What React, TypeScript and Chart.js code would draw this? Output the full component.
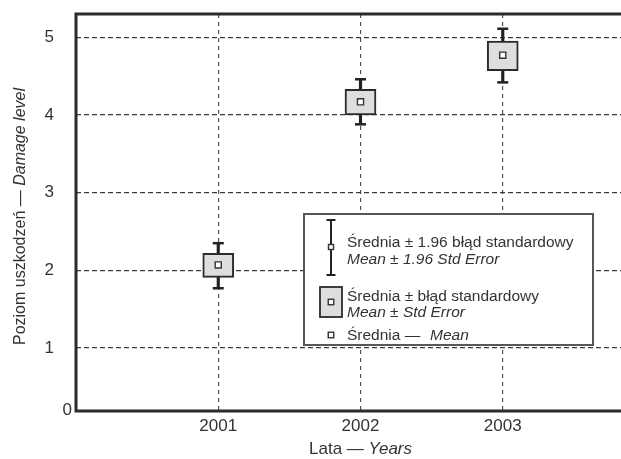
import React, { useEffect, useRef } from "react";
import { Chart, registerables } from "chart.js";

Chart.register(...registerables);

// ---- data ----
const years = [2001, 2002, 2003];
const means = [2.07, 4.17, 4.77];
const seLow = [1.91, 4.0, 4.57];
const seHigh = [2.22, 4.33, 4.95];
const ciLow = [1.77, 3.88, 4.42];
const ciHigh = [2.35, 4.46, 5.11];
const yTicks = [1, 2, 3, 4, 5];
const yMinLabel = "0";
const yMin = 0.19;
const yMax = 5.3;
const xMin = 2000;
const xMax = 2004;

const yTitleRegular = "Poziom uszkodzeń — ";
const yTitleItalic = "Damage level";
const xTitleRegular = "Lata — ";
const xTitleItalic = "Years";
const legendLines = [
  ["Średnia ± 1.96 błąd standardowy", "Mean ± 1.96 Std Error"],
  ["Średnia ± błąd standardowy", "Mean ± Std Error"],
];
const legendMeanRegular = "Średnia — ";
const legendMeanItalic = "Mean";

const FONT = "'Liberation Sans', Arial, Helvetica, sans-serif";
const DARK = "#2b2b2b";
const TEXT = "#333333";
const BOX_FILL = "#dedede";

const drawSquare = (ctx: CanvasRenderingContext2D, cx: number, cy: number, s: number) => {
  ctx.save();
  ctx.fillStyle = "#ffffff";
  ctx.strokeStyle = "#333";
  ctx.lineWidth = 1.4;
  ctx.fillRect(cx - s / 2, cy - s / 2, s, s);
  ctx.strokeRect(cx - s / 2, cy - s / 2, s, s);
  ctx.restore();
};

const decorPlugin = {
  id: "decor",
  beforeDatasetsDraw(chart: any) {
    const { ctx, chartArea: ca } = chart;
    ctx.save();
    ctx.strokeStyle = DARK;
    ctx.lineWidth = 3;
    ctx.beginPath();
    ctx.moveTo(ca.left, ca.top);
    ctx.lineTo(chart.width, ca.top);
    ctx.moveTo(ca.left, ca.top - 1.5);
    ctx.lineTo(ca.left, ca.bottom);
    ctx.lineTo(chart.width, ca.bottom);
    ctx.stroke();
    ctx.restore();
  },
  afterDraw(chart: any) {
    const { ctx, chartArea: ca } = chart;
    const yScale = chart.scales.y;
    ctx.save();
    ctx.fillStyle = TEXT;
    ctx.font = `17px ${FONT}`;
    ctx.textAlign = "right";
    ctx.textBaseline = "middle";
    ctx.fillText(yMinLabel, ca.left - 4, yScale.getPixelForValue(yMin) - 1);

    // y title
    ctx.save();
    ctx.translate(21, (ca.top + ca.bottom) / 2 + 4);
    ctx.rotate(-Math.PI / 2);
    ctx.textBaseline = "middle";
    ctx.textAlign = "left";
    ctx.font = `16px ${FONT}`;
    const w1 = ctx.measureText(yTitleRegular).width;
    ctx.font = `italic 16px ${FONT}`;
    const w2 = ctx.measureText(yTitleItalic).width;
    const sx = -(w1 + w2) / 2;
    ctx.font = `16px ${FONT}`;
    ctx.fillText(yTitleRegular, sx, 0);
    ctx.font = `italic 16px ${FONT}`;
    ctx.fillText(yTitleItalic, sx + w1, 0);
    ctx.restore();

    // x title
    ctx.textAlign = "left";
    ctx.textBaseline = "alphabetic";
    ctx.font = `17px ${FONT}`;
    const xw1 = ctx.measureText(xTitleRegular).width;
    ctx.font = `italic 17px ${FONT}`;
    const xw2 = ctx.measureText(xTitleItalic).width;
    const xc = (ca.left + ca.right) / 2;
    ctx.font = `17px ${FONT}`;
    ctx.fillText(xTitleRegular, xc - (xw1 + xw2) / 2, 454);
    ctx.font = `italic 17px ${FONT}`;
    ctx.fillText(xTitleItalic, xc - (xw1 + xw2) / 2 + xw1, 454);

    // legend
    const L = ca.left + 228;
    const T = ca.top + 200;
    ctx.fillStyle = "#ffffff";
    ctx.fillRect(L, T, 289, 131);
    ctx.strokeStyle = "#555";
    ctx.lineWidth = 2;
    ctx.strokeRect(L, T, 289, 131);

    const ix = L + 27;
    ctx.strokeStyle = "#222";
    ctx.lineWidth = 2;
    ctx.beginPath();
    ctx.moveTo(ix, T + 6);
    ctx.lineTo(ix, T + 61);
    ctx.moveTo(ix - 4.5, T + 6);
    ctx.lineTo(ix + 4.5, T + 6);
    ctx.moveTo(ix - 4.5, T + 61);
    ctx.lineTo(ix + 4.5, T + 61);
    ctx.stroke();
    drawSquare(ctx, ix, T + 33, 5);
    ctx.fillStyle = BOX_FILL;
    ctx.fillRect(ix - 11, T + 73, 22, 30);
    ctx.strokeStyle = DARK;
    ctx.lineWidth = 1.8;
    ctx.strokeRect(ix - 11, T + 73, 22, 30);
    drawSquare(ctx, ix, T + 88, 5.5);
    drawSquare(ctx, ix, T + 121, 5.5);

    const tx = L + 43;
    const fs = 15.5;
    ctx.fillStyle = TEXT;
    ctx.textAlign = "left";
    ctx.textBaseline = "alphabetic";
    const baselines = [[T + 33, T + 50], [T + 87, T + 103]];
    legendLines.forEach((pair, i) => {
      ctx.font = `${fs}px ${FONT}`;
      ctx.fillText(pair[0], tx, baselines[i][0]);
      ctx.font = `italic ${fs}px ${FONT}`;
      ctx.fillText(pair[1], tx, baselines[i][1]);
    });
    ctx.font = `${fs}px ${FONT}`;
    ctx.fillText(legendMeanRegular, tx, T + 126);
    ctx.font = `italic ${fs}px ${FONT}`;
    ctx.fillText(legendMeanItalic, tx + 83, T + 126);
    ctx.restore();
  },
};

export default function App() {
  const ref = useRef<HTMLCanvasElement | null>(null);
  useEffect(() => {
    if (!ref.current) return;
    const chart = new Chart(ref.current, {
      type: "bar",
      data: {
        datasets: [
          {
            type: "bar",
            label: "ci",
            data: years.map((x, i) => ({ x, y: [ciLow[i], ciHigh[i]] })) as any,
            backgroundColor: "#222",
            barThickness: 2.5,
            grouped: false,
            order: 4,
          } as any,
          {
            type: "scatter",
            label: "caps",
            data: years.flatMap((x, i) => [
              { x, y: ciLow[i] },
              { x, y: ciHigh[i] },
            ]),
            pointStyle: "line",
            radius: 5.5,
            borderWidth: 2.5,
            borderColor: "#222",
            order: 3,
          } as any,
          {
            type: "bar",
            label: "se",
            data: years.map((x, i) => ({ x, y: [seLow[i], seHigh[i]] })) as any,
            backgroundColor: BOX_FILL,
            borderColor: DARK,
            borderWidth: 2,
            borderSkipped: false,
            barThickness: 31,
            grouped: false,
            order: 2,
          } as any,
          {
            type: "scatter",
            label: "mean",
            data: years.map((x, i) => ({ x, y: means[i] })),
            pointStyle: "rect",
            radius: 4.3,
            backgroundColor: "#ffffff",
            borderColor: "#333",
            borderWidth: 1.4,
            order: 1,
          } as any,
        ],
      },
      options: {
        animation: false,
        responsive: false,
        devicePixelRatio: 1,
        events: [],
        layout: { padding: { left: 0, right: 15, top: 14, bottom: 0 } },
        plugins: { legend: { display: false }, tooltip: { enabled: false } },
        scales: {
          x: {
            type: "linear",
            min: xMin,
            max: xMax,
            offset: false,
            afterBuildTicks: (scale: any) => {
              scale.ticks = years.map((v) => ({ value: v }));
            },
            afterFit: (scale: any) => {
              scale.height = 48;
              scale.paddingLeft = 0;
              scale.paddingRight = 0;
              scale.paddingTop = 0;
              scale.paddingBottom = 0;
            },
            ticks: {
              callback: (v: any) => String(v),
              font: { family: FONT, size: 17 },
              color: TEXT,
              padding: 5,
              maxRotation: 0,
            },
            grid: {
              offset: false,
              drawTicks: false,
              color: "#555",
              lineWidth: 1.2,
            },
            border: { display: false, dash: [4, 4] },
          },
          y: {
            type: "linear",
            min: yMin,
            max: yMax,
            afterBuildTicks: (scale: any) => {
              scale.ticks = yTicks.map((v) => ({ value: v }));
            },
            afterFit: (scale: any) => {
              scale.width = 76;
              scale.paddingLeft = 0;
              scale.paddingRight = 0;
              scale.paddingTop = 0;
              scale.paddingBottom = 0;
            },
            ticks: {
              font: { family: FONT, size: 17 },
              color: TEXT,
              padding: 22,
            },
            grid: {
              drawTicks: false,
              color: "#3a3a3a",
              lineWidth: 1.3,
            },
            border: { display: false, dash: [5, 3] },
          },
        },
      },
      plugins: [decorPlugin],
    } as any);
    return () => chart.destroy();
  }, []);

  return (
    <div
      style={{
        position: "fixed",
        left: 0,
        top: 0,
        width: 621,
        height: 459,
        overflow: "hidden",
        background: "#fff",
      }}
    >
      <canvas ref={ref} width={660} height={459} style={{ display: "block" }} />
    </div>
  );
}
